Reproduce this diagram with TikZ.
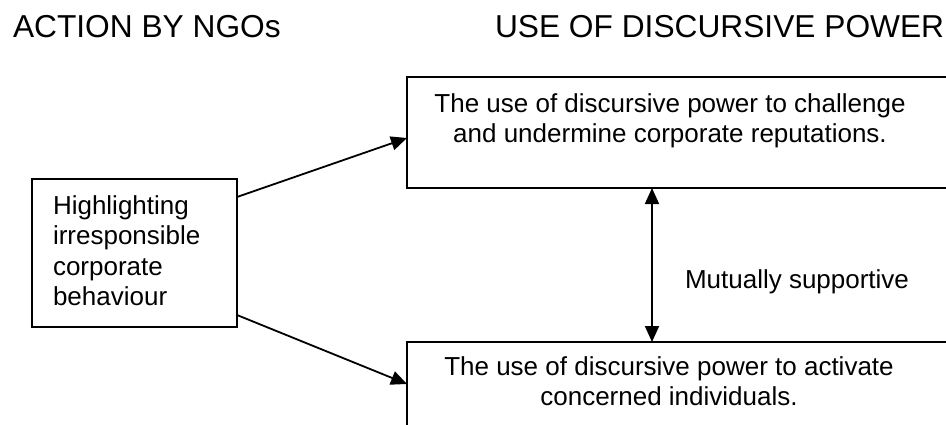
\documentclass[tikz,border=0pt]{standalone}
\usepackage{fontspec}
\setmainfont{Liberation Sans}
\usetikzlibrary{arrows.meta,calc}
\tikzset{
  boxstyle/.style={draw=black, line width=1.8pt, inner sep=0pt, outer sep=0pt},
  txt/.style={inner sep=0pt, outer sep=0pt, font=\fontsize{26}{30.5}\selectfont},
  ttl/.style={inner sep=0pt, outer sep=0pt, font=\fontsize{31.7}{36}\selectfont},
  tip/.style={Triangle[length=16pt,width=14pt]},
  conn/.style={line width=1.8pt, -{Triangle[length=16pt,width=14pt]}},
  conn2/.style={line width=1.8pt, {Triangle[length=16pt,width=14pt]}-{Triangle[length=16pt,width=14pt]}}
}
\begin{document}
\begin{tikzpicture}[x=1pt,y=-1pt]
\useasboundingbox (0,0) rectangle (946,424);
\fill[white] (0,0) rectangle (946,424);
\clip (0,0) rectangle (946,424);
% titles
\node[ttl, anchor=base west] (t1) at (13,37) {ACTION BY NGOs};
\node[ttl, anchor=base west] (t2) at (495,37) {USE OF DISCURSIVE POWER};
% boxes
\node[boxstyle, minimum width=205pt, minimum height=148pt] (lb) at (134.5,253) {};
\node[boxstyle, minimum width=560pt, minimum height=111pt] (tb) at (687,132.5) {};
\node[boxstyle, minimum width=560pt, minimum height=140pt] (bb) at (687,412) {};
% texts
\node[txt, anchor=base west] (lbt) at (53,214) {\begin{tabular}[t]{@{}l@{}}Highlighting\\irresponsible\\corporate\\behaviour\end{tabular}};
\node[txt, anchor=base] (tbt) at (670,112) {\begin{tabular}[t]{@{}c@{}}The use of discursive power to challenge\\and undermine corporate reputations.\end{tabular}};
\node[txt, anchor=base] (bbt) at (669,375) {\begin{tabular}[t]{@{}c@{}}The use of discursive power to activate\\concerned individuals.\end{tabular}};
\node[txt, anchor=base west] (ms) at (685,288) {Mutually supportive};
% connector end points
\coordinate (a1s) at ($(lb.north east)+(0,18)$);
\coordinate (a1e) at ($(tb.north west)+(0,61)$);
\coordinate (a2s) at ($(lb.south east)+(0,-12)$);
\coordinate (a2e) at ($(bb.north west)+(0,42)$);
\coordinate (vx) at (652,0);
\draw[conn] (a1s) -- (a1e);
\draw[conn] (a2s) -- (a2e);
\draw[conn2] (tb.south -| vx) -- (bb.north -| vx);
\end{tikzpicture}
\end{document}
